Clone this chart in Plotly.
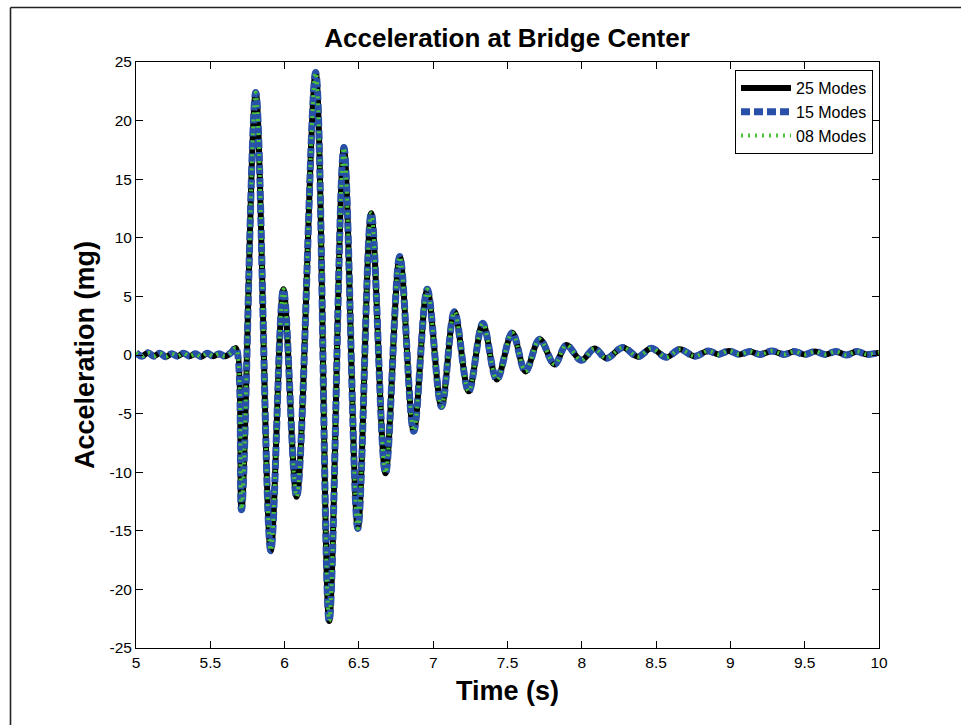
import plotly.graph_objects as go

# ---- data ----
time_s = [
    5.00, 5.04, 5.08, 5.12, 5.16, 5.20, 5.24, 5.28, 5.32, 5.36, 5.40, 5.44,
    5.48, 5.52, 5.56, 5.60, 5.64, 5.672,
    5.710, 5.806, 5.907, 5.992, 6.081, 6.209, 6.300, 6.399, 6.493, 6.583,
    6.679, 6.775, 6.869, 6.960, 7.056, 7.143, 7.239, 7.334, 7.428, 7.532,
    7.621, 7.716, 7.817, 7.896, 7.996, 8.086, 8.165, 8.277, 8.378, 8.468,
    8.569, 8.659, 8.760,
    8.85, 8.92, 8.99, 9.06, 9.13, 9.20, 9.28, 9.36, 9.43, 9.50, 9.57, 9.64,
    9.71, 9.78, 9.85, 9.92, 10.00,
]

acc_25_modes = [
    0.20, -0.10, 0.20, -0.10, 0.15, -0.15, 0.10, -0.10, 0.15, -0.10, 0.10, -0.15,
    0.15, -0.10, 0.10, -0.10, 0.20, 0.60,
    -13.2, 22.4, -16.7, 5.6, -12.1, 24.1, -22.7, 17.7, -14.8, 12.1,
    -10.1, 8.4, -6.5, 5.6, -4.4, 3.7, -3.1, 2.7, -2.1, 1.9,
    -1.4, 1.35, -0.8, 0.85, -0.45, 0.55, -0.28, 0.65, -0.14, 0.57,
    -0.20, 0.48, -0.10,
    0.35, 0.05, 0.35, 0.05, 0.30, 0.05, 0.35, 0.05, 0.30, 0.05, 0.30, 0.05,
    0.30, 0.00, 0.30, 0.05, 0.20,
]
# the 15- and 8-mode responses overlap the 25-mode curve in the picture
acc_15_modes = list(acc_25_modes)
acc_08_modes = list(acc_25_modes)

series_names = ["25 Modes", "15 Modes", "08 Modes"]

x_ticks = [5, 5.5, 6, 6.5, 7, 7.5, 8, 8.5, 9, 9.5, 10]
x_tick_text = ["5", "5.5", "6", "6.5", "7", "7.5", "8", "8.5", "9", "9.5", "10"]
y_ticks = [-25, -20, -15, -10, -5, 0, 5, 10, 15, 20, 25]
y_tick_text = [str(v) for v in y_ticks]

# ---- figure ----
# the figure is a little larger than the 961x725 window so its outer edges fall outside the view
W, H = 1000, 760
L, R, T, B = 136, 121, 62, 112
FONT = "Liberation Sans, Arial, Helvetica, sans-serif"

fig = go.Figure()
fig.add_trace(go.Scatter(
    x=time_s, y=acc_25_modes, name=series_names[0], mode="lines",
    line=dict(color="#000000", width=6, shape="spline", smoothing=1.0),
))
fig.add_trace(go.Scatter(
    x=time_s, y=acc_15_modes, name=series_names[1], mode="lines",
    line=dict(color="#2850a8", width=7, dash="9px,4px", shape="spline", smoothing=1.0),
))
fig.add_trace(go.Scatter(
    x=time_s, y=acc_08_modes, name=series_names[2], mode="lines",
    line=dict(color="#4cc23c", width=4, dash="2px,5px", shape="spline", smoothing=1.0),
))

pw = W - L - R
ph = H - T - B
def px_x(p):
    return (p - L) / pw
def px_y(p):
    return (H - B - p) / ph

fig.update_layout(
    width=W, height=H, autosize=False,
    margin=dict(l=L, r=R, t=T, b=B, pad=0),
    paper_bgcolor="white", plot_bgcolor="white",
    font=dict(family=FONT, color="black", size=15.5),
    title=dict(
        text="<b>Acceleration at Bridge Center</b>",
        x=px_x(507), xref="paper", xanchor="center",
        y=1 - 38 / H, yref="container", yanchor="middle",
        font=dict(family=FONT, size=26, color="black"),
    ),
    showlegend=True,
    legend=dict(
        x=px_x(873), y=px_y(70), xanchor="right", yanchor="top",
        bgcolor="white", bordercolor="black", borderwidth=1,
        font=dict(family=FONT, size=16, color="black"),
        itemwidth=50, tracegroupgap=0,
    ),
    xaxis=dict(
        range=[5, 10], tickmode="array", tickvals=x_ticks, ticktext=x_tick_text,
        showgrid=False, zeroline=False, showline=True, linecolor="black", linewidth=1,
        mirror="ticks", ticks="inside", ticklen=7, tickcolor="black", tickwidth=1,
        tickfont=dict(family=FONT, size=15.5, color="black"),
        title=dict(text="<b>Time (s)</b>", font=dict(family=FONT, size=27, color="black"), standoff=11),
    ),
    yaxis=dict(
        range=[-25, 25], tickmode="array", tickvals=y_ticks, ticktext=y_tick_text,
        showgrid=False, zeroline=False, showline=True, linecolor="black", linewidth=1,
        mirror="ticks", ticks="inside", ticklen=7, tickcolor="black", tickwidth=1,
        tickfont=dict(family=FONT, size=15.5, color="black"),
        title=dict(text="<b>Acceleration (mg)</b>", font=dict(family=FONT, size=27, color="black"), standoff=7),
    ),
)

# outer figure frame (MATLAB figure border; only its top and left edges are in view)
fig.add_shape(
    type="line", xref="paper", yref="paper",
    x0=px_x(10.5), y0=px_y(7.5), x1=px_x(W), y1=px_y(7.5),
    line=dict(color="#222222", width=1.6), layer="below",
)
fig.add_shape(
    type="line", xref="paper", yref="paper",
    x0=px_x(10.5), y0=px_y(7.5), x1=px_x(10.5), y1=px_y(H),
    line=dict(color="#222222", width=1.6), layer="below",
)

fig.write_html(
    "out.html",
    config={"displayModeBar": False},
    post_script=(
        "document.documentElement.style.margin='0';"
        "document.documentElement.style.overflow='hidden';"
        "document.body.style.margin='0';"
        "document.body.style.overflow='hidden';"
    ),
)
